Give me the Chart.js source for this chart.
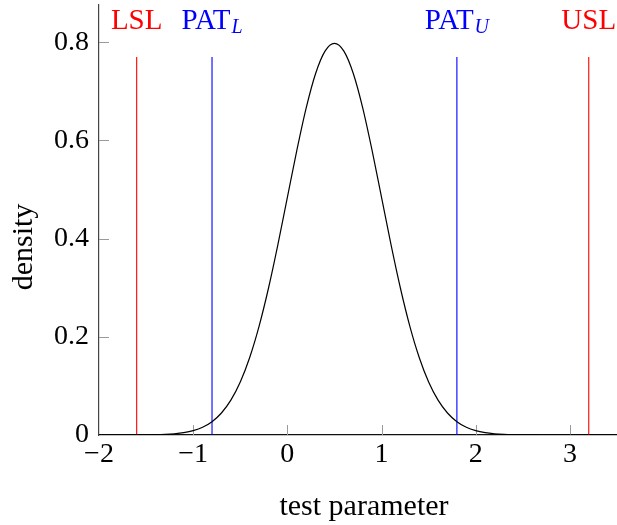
<!DOCTYPE html>
<html><head><meta charset="utf-8">
<script src="https://cdn.jsdelivr.net/npm/chart.js@4.4.0/dist/chart.umd.min.js"></script>
<style>html,body{margin:0;padding:0;background:#fff}canvas{display:block}</style>
</head><body>
<canvas id="c" width="617" height="525"></canvas>
<script>
// ---- data ----
const xValues = [-2.0,-1.9,-1.8,-1.7,-1.6,-1.5,-1.4,-1.3,-1.2,-1.1,
  -1.0,-0.9,-0.8,-0.7,-0.6,-0.5,-0.4,-0.3,-0.2,-0.1,
  0.0,0.1,0.2,0.3,0.4,0.5,0.6,0.7,0.8,0.9,
  1.0,1.1,1.2,1.3,1.4,1.5,1.6,1.7,1.8,1.9,
  2.0,2.1,2.2,2.3,2.4,2.5,2.6,2.7,2.8,2.9,
  3.0,3.1,3.2,3.3,3.4,3.5];
const densityValues = [0,0.00001,0.00002,0.00005,0.00012,0.00027,0.00058,0.00122,0.00246,0.00477,
  0.00887,0.01583,0.02717,0.04479,0.07095,0.10798,0.15791,0.22184,0.29946,0.38838,
  0.48394,0.57938,0.66645,0.73654,0.78208,0.79788,0.78208,0.73654,0.66645,0.57938,
  0.48394,0.38838,0.29946,0.22184,0.15791,0.10798,0.07095,0.04479,0.02717,0.01583,
  0.00887,0.00477,0.00246,0.00122,0.00058,0.00027,0.00012,0.00005,0.00002,0.00001,
  0,0,0,0,0,0];
const limitValues = [-1.6, -0.8, 1.8, 3.2];
const limitNames = ['LSL', 'PAT', 'PAT', 'USL'];
const limitSubscripts = ['', 'L', 'U', ''];
const limitHeight = 0.77;
const xTicks = [-2, -1, 0, 1, 2, 3];
const yTicks = [0, 0.2, 0.4, 0.6, 0.8];
const xRange = [-2, 3.5];
const yRange = [0, 0.876];
const xTitle = 'test parameter';
const yTitle = 'density';

// ---- styles ----
const limitColors = ['rgb(255,0,0)', 'rgb(0,0,255)', 'rgb(0,0,255)', 'rgb(255,0,0)'];
const FONT = '"Liberation Serif", serif';
const fmt = v => String(v).replace('-', '\u2212');

const datasets = [{
  data: xValues.map((x, i) => ({x: x, y: densityValues[i]})),
  borderColor: '#000', borderWidth: 1.2, pointRadius: 0,
  cubicInterpolationMode: 'monotone', fill: false, order: 0
}];
limitValues.forEach((v, i) => {
  datasets.push({
    data: [{x: v, y: 0}, {x: v, y: limitHeight}],
    borderColor: limitColors[i], backgroundColor: limitColors[i],
    borderWidth: 1.1, pointRadius: 0, fill: false, order: 1
  });
});

const decor = {
  id: 'decor',
  beforeDatasetsDraw(chart) {
    const {ctx, chartArea: a, scales: {x, y}} = chart;
    ctx.save();
    ctx.strokeStyle = '#9a9a9a'; ctx.lineWidth = 1;
    xTicks.forEach(v => {
      if (v === xRange[0]) return;
      const px = Math.round(x.getPixelForValue(v)) + 0.5;
      ctx.beginPath(); ctx.moveTo(px, a.bottom); ctx.lineTo(px, a.bottom - 10); ctx.stroke();
    });
    yTicks.forEach(v => {
      if (v === yRange[0]) return;
      const py = Math.round(y.getPixelForValue(v)) + 0.5;
      ctx.beginPath(); ctx.moveTo(a.left, py); ctx.lineTo(a.left + 10, py); ctx.stroke();
    });
    ctx.restore();
  },
  afterDraw(chart) {
    const {ctx, chartArea: a, scales: {x, y}} = chart;
    ctx.save();
    ctx.textBaseline = 'alphabetic';
    limitValues.forEach((v, i) => {
      const px = x.getPixelForValue(v);
      ctx.font = '29px ' + FONT;
      const w1 = ctx.measureText(limitNames[i]).width;
      ctx.font = 'italic 20px ' + FONT;
      const w2 = limitSubscripts[i] ? ctx.measureText(limitSubscripts[i]).width + 1 : 0;
      const start = px - (w1 + w2) / 2;
      ctx.fillStyle = limitColors[i];
      ctx.textAlign = 'left';
      ctx.font = '29px ' + FONT;
      ctx.fillText(limitNames[i], start, 29);
      if (limitSubscripts[i]) {
        ctx.font = 'italic 20px ' + FONT;
        ctx.fillText(limitSubscripts[i], start + w1 + 1, 33);
      }
    });
    ctx.fillStyle = '#000';
    ctx.font = '30px ' + FONT;
    ctx.textAlign = 'center';
    ctx.fillText(xTitle, 364, 515);
    ctx.translate(32, 247);
    ctx.rotate(-Math.PI / 2);
    ctx.fillText(yTitle, 0, 0);
    ctx.restore();
  }
};

new Chart(document.getElementById('c'), {
  type: 'line',
  data: {datasets},
  plugins: [decor],
  options: {
    responsive: false, animation: false, devicePixelRatio: 1,
    layout: {padding: {top: 5, right: -1, left: 0, bottom: 0}},
    plugins: {legend: {display: false}, tooltip: {enabled: false}},
    scales: {
      x: {
        type: 'linear', min: xRange[0], max: xRange[1],
        afterBuildTicks: s => { s.ticks = xTicks.map(v => ({value: v})); },
        afterFit: s => { s.height = 90; s.paddingLeft = 0; s.paddingRight = 0; },
        grid: {display: false, drawTicks: false},
        border: {display: true, color: '#111', width: 1.3},
        ticks: {color: '#000', font: {family: FONT, size: 28}, padding: 3,
          maxRotation: 0, autoSkip: false, callback: fmt}
      },
      y: {
        type: 'linear', min: yRange[0], max: yRange[1],
        afterBuildTicks: s => { s.ticks = yTicks.map(v => ({value: v})); },
        afterFit: s => { s.width = 99; s.paddingTop = 0; s.paddingBottom = 0; },
        grid: {display: false, drawTicks: false},
        border: {display: true, color: '#444', width: 1.2},
        ticks: {color: '#000', font: {family: FONT, size: 28}, padding: 10,
          autoSkip: false, callback: fmt}
      }
    }
  }
});
</script>
</body></html>
